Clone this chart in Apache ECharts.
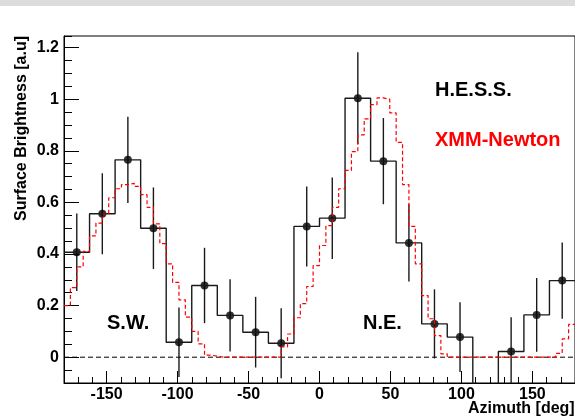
<!DOCTYPE html>
<html>
<head>
<meta charset="utf-8">
<script src="https://cdn.jsdelivr.net/npm/echarts@6.0.0/dist/echarts.min.js"></script>
<style>
html, body { margin: 0; padding: 0; background: #fff; }
#chart { width: 575px; height: 418px; }
</style>
</head>
<body>
<div id="chart"></div>
<script>
// H.E.S.S. profile, 18 deg bins
var hessCenters = [-171, -153, -135, -117, -99, -81, -63, -45, -27, -9, 9, 27, 45, 63, 81, 99, 117, 135, 153, 171];
var hessValues  = [0.407, 0.556, 0.765, 0.50, 0.058, 0.278, 0.162, 0.097, 0.054, 0.507, 0.539, 1.004, 0.76, 0.443, 0.129, 0.078, -0.3, 0.022, 0.164, 0.297];
var hessErrors  = [0.15, 0.157, 0.167, 0.158, 0.135, 0.146, 0.14, 0.137, 0.136, 0.155, 0.158, 0.178, 0.167, 0.15, 0.134, 0.135, 0.14, 0.133, 0.143, 0.148];
var hessBinWidth = 18;

// XMM-Newton profile, 4.5 deg bins starting at -180
var xmmStart = -180;
var xmmBinWidth = 4.5;
var xmmValues = [
    0.20, 0.27, 0.35, 0.41, 0.47, 0.52, 0.555, 0.618, 0.653, 0.669,
    0.674, 0.662, 0.63, 0.581, 0.517, 0.44, 0.362, 0.29, 0.222, 0.155,
    0.10, 0.052, 0.008, 0.004, 0, 0, 0, 0, 0, 0,
    0, 0, 0, 0, 0.04, 0.09, 0.153, 0.208, 0.274, 0.355,
    0.433, 0.51, 0.581, 0.653, 0.724, 0.797, 0.862, 0.924, 0.979, 1.005,
    1.0, 0.947, 0.833, 0.669, 0.507, 0.362, 0.239, 0.149, 0.084, 0.013,
    0, 0, 0, 0, 0, 0, 0, 0, 0, 0,
    0, 0, 0, 0, 0, 0, 0, 0.015, 0.071, 0.127
];

var zeroLine = [[-180, 0], [180, 0]];

var xMajorTicks = [-150, -100, -50, 0, 50, 100, 150];
var yMajorTicks = [0, 0.2, 0.4, 0.6, 0.8, 1, 1.2];

var fontName = 'Liberation Sans';

function histSteps(lowEdges, values, width)
{
    var out = [];
    for (var i = 0; i < values.length; i++) {
        out.push([lowEdges[i], values[i]]);
    }
    out.push([lowEdges[values.length - 1] + width, values[values.length - 1]]);
    return out;
}

var hessLow = hessCenters.map(function (c) { return c - hessBinWidth / 2; });
var xmmLow = xmmValues.map(function (v, i) { return xmmStart + i * xmmBinWidth; });

var hessPoints = hessCenters.map(function (c, i) { return [c, hessValues[i]]; });
var hessBars = hessCenters.map(function (c, i) { return [c, hessValues[i] - hessErrors[i], hessValues[i] + hessErrors[i]]; });

var labelStyle = { fontFamily: fontName, fontSize: 16, fontWeight: 'bold', color: '#000' };
var bigText = { fontFamily: fontName, fontSize: 20, fontWeight: 'bold' };

var myChart = echarts.init(document.getElementById('chart'));
myChart.setOption({
    animation: false,
    backgroundColor: '#fff',
    grid: {
        left: 64, top: 36, right: -1, bottom: 35,
        show: true, borderColor: '#000', borderWidth: 1
    },
    xAxis: [
        {
            type: 'value', min: -180, max: 180, position: 'bottom',
            axisLine: { onZero: false, lineStyle: { color: '#000', width: 1 } },
            axisTick: { inside: true, length: 12, customValues: xMajorTicks, lineStyle: { color: '#000', width: 1 } },
            axisLabel: Object.assign({ customValues: xMajorTicks, margin: 4 }, labelStyle),
            splitLine: { show: false }
        },
        {
            type: 'value', min: -180, max: 180, position: 'bottom', interval: 10,
            axisLine: { show: false, onZero: false },
            axisTick: { inside: true, length: 6, lineStyle: { color: '#000', width: 1 } },
            axisLabel: { show: false },
            splitLine: { show: false }
        }
    ],
    yAxis: [
        {
            type: 'value', min: -0.1, max: 1.245, position: 'left',
            axisLine: { show: true, onZero: false, lineStyle: { color: '#000', width: 1 } },
            axisTick: { inside: true, length: 15, customValues: yMajorTicks, lineStyle: { color: '#000', width: 1 } },
            axisLabel: Object.assign({ customValues: yMajorTicks, margin: 5 }, labelStyle),
            splitLine: { show: false }
        },
        {
            type: 'value', min: -0.1, max: 1.245, position: 'left', interval: 0.05,
            axisLine: { show: false, onZero: false },
            axisTick: { inside: true, length: 8, lineStyle: { color: '#000', width: 1 } },
            axisLabel: { show: false },
            splitLine: { show: false }
        }
    ],
    series: [
        {
            name: 'zero', type: 'line', data: zeroLine, symbol: 'none',
            lineStyle: { color: '#000', width: 1, type: [5, 3] }
        },
        {
            name: 'H.E.S.S.', type: 'line', step: 'end', data: histSteps(hessLow, hessValues, hessBinWidth),
            symbol: 'none', clip: true,
            lineStyle: { color: '#1a1a1a', width: 1.4 }
        },
        {
            name: 'H.E.S.S. errors', type: 'custom', data: hessBars, clip: true,
            encode: { x: 0, y: [1, 2] },
            renderItem: function (params, api) {
                var p1 = api.coord([api.value(0), api.value(1)]);
                var p2 = api.coord([api.value(0), api.value(2)]);
                return {
                    type: 'line',
                    shape: { x1: p1[0], y1: p1[1], x2: p2[0], y2: p2[1] },
                    style: { stroke: '#1a1a1a', lineWidth: 1.4 }
                };
            }
        },
        {
            name: 'H.E.S.S. points', type: 'scatter', data: hessPoints, clip: true,
            symbol: 'circle', symbolSize: 8,
            itemStyle: { color: '#000' }
        },
        {
            name: 'XMM-Newton', type: 'line', step: 'end', data: histSteps(xmmLow, xmmValues, xmmBinWidth),
            symbol: 'none', clip: true,
            lineStyle: { color: '#ff0000', width: 1.2, type: [4, 2.5] }
        }
    ],
    graphic: [
        { type: 'rect', left: 0, top: 0, shape: { width: 575, height: 6 }, style: { fill: '#dcdcdc' }, silent: true },
        { type: 'text', x: 22, y: 36, rotation: Math.PI / 2,
          style: { text: 'Surface Brightness [a.u]', fill: '#000', align: 'right', verticalAlign: 'middle', fontFamily: fontName, fontSize: 16, fontWeight: 'bold' } },
        { type: 'text', x: 468, y: 409,
          style: { text: 'Azimuth [deg]', fill: '#000', align: 'left', verticalAlign: 'middle', fontFamily: fontName, fontSize: 16, fontWeight: 'bold' } },
        { type: 'text', x: 435, y: 90,
          style: Object.assign({ text: 'H.E.S.S.', fill: '#000', align: 'left', verticalAlign: 'middle' }, bigText) },
        { type: 'text', x: 435, y: 140,
          style: Object.assign({ text: 'XMM-Newton', fill: '#ff0000', align: 'left', verticalAlign: 'middle' }, bigText) },
        { type: 'text', x: 107, y: 323,
          style: Object.assign({ text: 'S.W.', fill: '#000', align: 'left', verticalAlign: 'middle' }, bigText) },
        { type: 'text', x: 363, y: 323,
          style: Object.assign({ text: 'N.E.', fill: '#000', align: 'left', verticalAlign: 'middle' }, bigText) }
    ]
});
</script>
</body>
</html>
